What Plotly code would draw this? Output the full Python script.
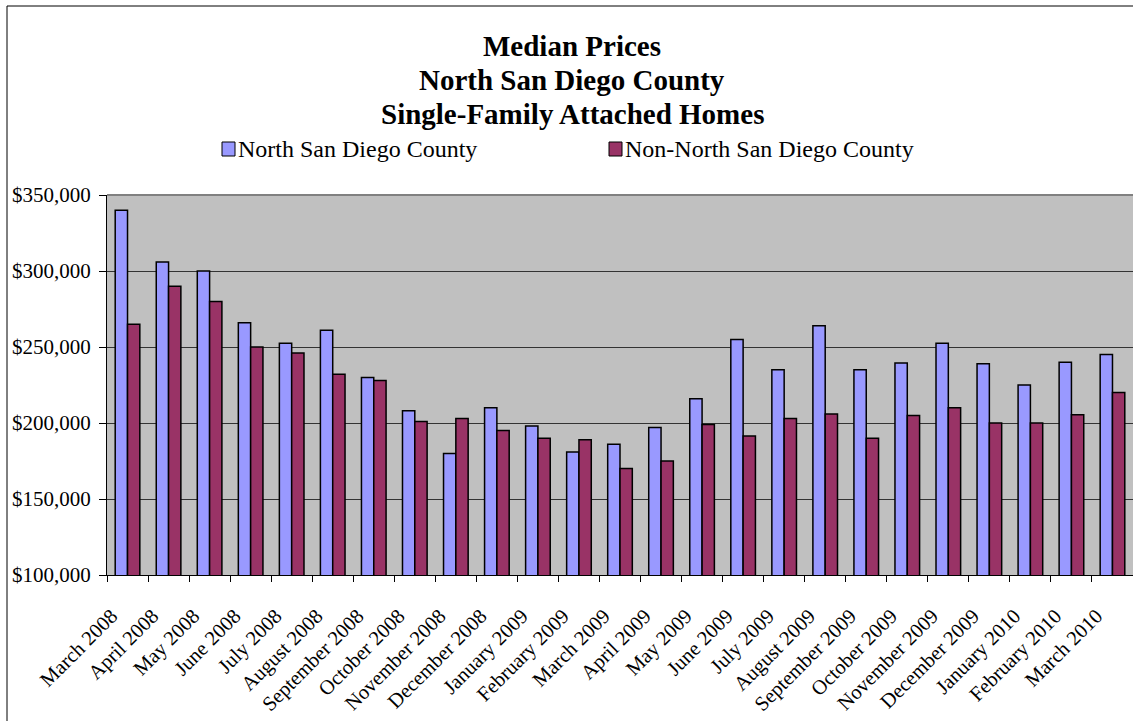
import plotly.graph_objects as go

# Monthly median sale prices, single-family attached homes
months = [
    "March 2008", "April 2008", "May 2008", "June 2008", "July 2008",
    "August 2008", "September 2008", "October 2008", "November 2008",
    "December 2008", "January 2009", "February 2009", "March 2009",
    "April 2009", "May 2009", "June 2009", "July 2009", "August 2009",
    "September 2009", "October 2009", "November 2009", "December 2009",
    "January 2010", "February 2010", "March 2010",
]
north_county = [
    340000, 306000, 300000, 266000, 252500, 261000, 230000, 208000, 180000,
    210000, 198000, 181000, 186000, 197000, 216000, 255000, 235000, 264000,
    235000, 239500, 252500, 239000, 225000, 240000, 245000,
]
non_north_county = [
    265000, 290000, 280000, 250000, 246000, 232000, 228000, 201000, 203000,
    195000, 190000, 189000, 170000, 175000, 199000, 191500, 203000, 206000,
    190000, 205000, 210000, 200000, 200000, 205500, 220000,
]
series_names = ["North San Diego County", "Non-North San Diego County"]
title_lines = ["Median Prices", "North San Diego County", "Single-Family Attached Homes"]
y_ticks = [100000, 150000, 200000, 250000, 300000, 350000]

W, H = 1133, 721
L, R, T, B = 107, 0, 195, 146
PW, PH = W - L - R, H - T - B
SERIF = "Liberation Serif, Times New Roman, serif"
BLUE, PLUM = "#9999FF", "#993366"


def px_x(px):
    return (px - L) / PW


def px_y(py):
    return (H - B - py) / PH


fig = go.Figure()
for name, vals, col in zip(series_names, [north_county, non_north_county], [BLUE, PLUM]):
    fig.add_trace(go.Bar(
        x=months, y=vals, name=name,
        marker=dict(color=col, line=dict(color="#000000", width=1.5)),
        showlegend=False,
    ))

annotations = []
for i, line in enumerate(title_lines):
    annotations.append(dict(
        text=f"<b>{line}</b>", xref="paper", yref="paper",
        x=px_x(572), y=px_y(46 + 34 * i), xanchor="center", yanchor="middle",
        showarrow=False, font=dict(family=SERIF, size=29, color="#000000"),
    ))

shapes = []
# Legend keys
for name, col, sx in zip(series_names, [BLUE, PLUM], [222, 609]):
    shapes.append(dict(
        type="rect", xref="paper", yref="paper",
        x0=px_x(sx), x1=px_x(sx + 13), y0=px_y(142), y1=px_y(156),
        fillcolor=col, line=dict(color="#000000", width=1),
    ))
    annotations.append(dict(
        text=name, xref="paper", yref="paper",
        x=px_x(sx + 14), y=px_y(149), xanchor="left", yanchor="middle",
        showarrow=False, font=dict(family=SERIF, size=24, color="#000000"),
    ))

# Plot-area top edge
shapes.append(dict(
    type="line", xref="paper", yref="paper", x0=0, x1=1, y0=1, y1=1,
    line=dict(color="#808080", width=2),
))
# Chart frame
shapes.append(dict(
    type="rect", xref="paper", yref="paper",
    x0=px_x(7), x1=px_x(W + 10), y0=px_y(H + 10), y1=px_y(6),
    line=dict(color="#000000", width=1), fillcolor="rgba(0,0,0,0)", layer="below",
))

fig.update_layout(
    width=W, height=H,
    margin=dict(l=L, r=R, t=T, b=B, pad=0),
    paper_bgcolor="#FFFFFF", plot_bgcolor="#C0C0C0",
    barmode="group", bargap=0.4, bargroupgap=0.0,
    font=dict(family=SERIF, color="#000000"),
    annotations=annotations, shapes=shapes,
    xaxis=dict(
        type="category", tickangle=-45, tickson="boundaries",
        ticks="outside", ticklen=6, tickcolor="#000000", tickwidth=1,
        showline=True, linecolor="#000000", linewidth=1,
        showgrid=False, tickfont=dict(family=SERIF, size=20.5),
        ticklabelstandoff=20, ticklabelshift=-16,
    ),
    yaxis=dict(
        range=[100000, 350000], tickvals=y_ticks, tickformat="$,.0f",
        ticks="outside", ticklen=7, tickcolor="#000000", tickwidth=1,
        showline=True, linecolor="#000000", linewidth=1,
        showgrid=True, gridcolor="#333333", gridwidth=1, zeroline=False,
        tickfont=dict(family=SERIF, size=21), ticklabelstandoff=4,
    ),
)

fig.write_html("out.html")
